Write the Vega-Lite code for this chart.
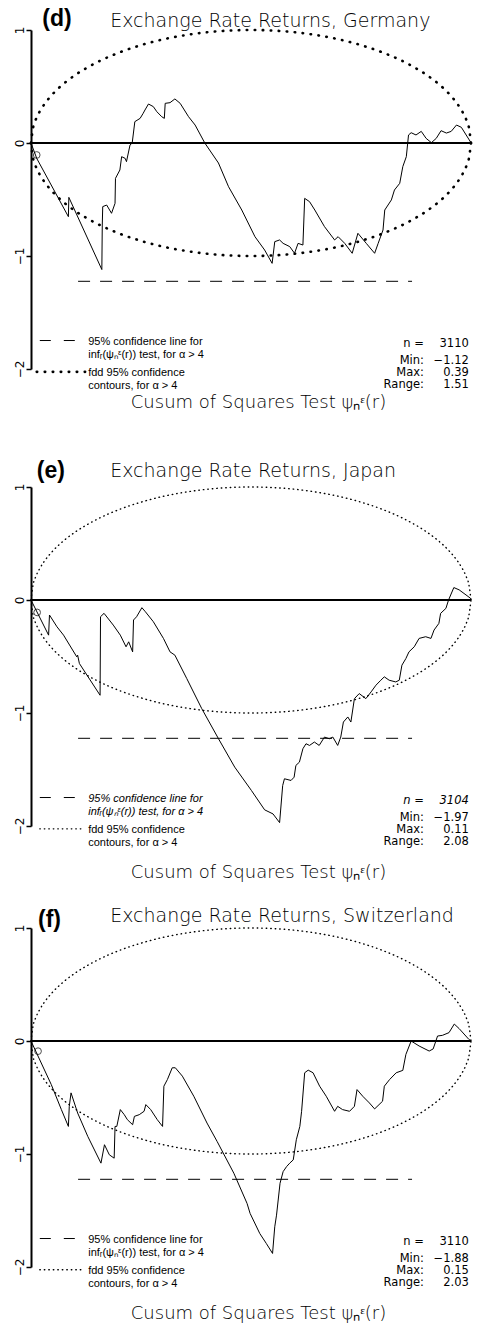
{
  "$schema": "https://vega.github.io/schema/vega-lite/v6.json",
  "background": "white",
  "padding": {"left": 13, "top": 8, "right": 0, "bottom": 0},
  "config": {"view": {"stroke": null}},
  "datasets": {
    "ellipse": [
      {"r":0,"upper":0,"lower":0},{"r":0.005,"upper":0.141,"lower":-0.141},{"r":0.01,"upper":0.199,"lower":-0.199},
      {"r":0.02,"upper":0.28,"lower":-0.28},{"r":0.03,"upper":0.341,"lower":-0.341},{"r":0.05,"upper":0.436,"lower":-0.436},
      {"r":0.075,"upper":0.527,"lower":-0.527},{"r":0.1,"upper":0.6,"lower":-0.6},{"r":0.15,"upper":0.714,"lower":-0.714},
      {"r":0.2,"upper":0.8,"lower":-0.8},{"r":0.25,"upper":0.866,"lower":-0.866},{"r":0.3,"upper":0.917,"lower":-0.917},
      {"r":0.35,"upper":0.954,"lower":-0.954},{"r":0.4,"upper":0.98,"lower":-0.98},{"r":0.45,"upper":0.995,"lower":-0.995},
      {"r":0.5,"upper":1,"lower":-1},{"r":0.55,"upper":0.995,"lower":-0.995},{"r":0.6,"upper":0.98,"lower":-0.98},
      {"r":0.65,"upper":0.954,"lower":-0.954},{"r":0.7,"upper":0.917,"lower":-0.917},{"r":0.75,"upper":0.866,"lower":-0.866},
      {"r":0.8,"upper":0.8,"lower":-0.8},{"r":0.85,"upper":0.714,"lower":-0.714},{"r":0.9,"upper":0.6,"lower":-0.6},
      {"r":0.925,"upper":0.527,"lower":-0.527},{"r":0.95,"upper":0.436,"lower":-0.436},{"r":0.97,"upper":0.341,"lower":-0.341},
      {"r":0.98,"upper":0.28,"lower":-0.28},{"r":0.99,"upper":0.199,"lower":-0.199},{"r":0.995,"upper":0.141,"lower":-0.141},
      {"r":1,"upper":0,"lower":0}
    ],
    "conf": [{"r":0.107,"psi":-1.224},{"r":0.866,"psi":-1.224}],
    "germany": [
      {"r":0,"psi":0},{"r":0.013,"psi":-0.136},{"r":0.085,"psi":-0.652},{"r":0.086,"psi":-0.481},{"r":0.161,"psi":-1.12},
      {"r":0.162,"psi":-0.726},{"r":0.163,"psi":-0.563},{"r":0.172,"psi":-0.549},{"r":0.183,"psi":-0.622},{"r":0.191,"psi":-0.534},
      {"r":0.192,"psi":-0.313},{"r":0.202,"psi":-0.239},{"r":0.206,"psi":-0.121},{"r":0.214,"psi":-0.136},{"r":0.217,"psi":-0.165},
      {"r":0.225,"psi":-0.018},{"r":0.23,"psi":0},{"r":0.236,"psi":0.189},{"r":0.248,"psi":0.218},{"r":0.255,"psi":0.263},
      {"r":0.259,"psi":0.292},{"r":0.267,"psi":0.345},{"r":0.278,"psi":0.322},{"r":0.286,"psi":0.277},{"r":0.297,"psi":0.233},
      {"r":0.303,"psi":0.218},{"r":0.305,"psi":0.351},{"r":0.316,"psi":0.357},{"r":0.327,"psi":0.39},{"r":0.339,"psi":0.351},
      {"r":0.358,"psi":0.233},{"r":0.373,"psi":0.159},{"r":0.395,"psi":0},{"r":0.426,"psi":-0.177},{"r":0.449,"psi":-0.387},
      {"r":0.479,"psi":-0.593},{"r":0.509,"psi":-0.829},{"r":0.531,"psi":-0.947},{"r":0.548,"psi":-1.065},{"r":0.554,"psi":-0.873},
      {"r":0.565,"psi":-0.858},{"r":0.573,"psi":-0.888},{"r":0.588,"psi":-0.917},{"r":0.599,"psi":-0.976},{"r":0.607,"psi":-0.888},
      {"r":0.618,"psi":-0.903},{"r":0.622,"psi":-0.49},{"r":0.633,"psi":-0.519},{"r":0.645,"psi":-0.593},{"r":0.667,"psi":-0.74},
      {"r":0.69,"psi":-0.858},{"r":0.698,"psi":-0.829},{"r":0.713,"psi":-0.888},{"r":0.73,"psi":-0.976},{"r":0.743,"psi":-0.799},
      {"r":0.762,"psi":-0.888},{"r":0.781,"psi":-0.976},{"r":0.789,"psi":-0.888},{"r":0.8,"psi":-0.77},{"r":0.804,"psi":-0.593},
      {"r":0.819,"psi":-0.504},{"r":0.826,"psi":-0.416},{"r":0.838,"psi":-0.357},{"r":0.845,"psi":-0.209},{"r":0.853,"psi":-0.121},
      {"r":0.858,"psi":0.071},{"r":0.864,"psi":0.091},{"r":0.875,"psi":0.071},{"r":0.887,"psi":0.103},{"r":0.898,"psi":0.041},
      {"r":0.91,"psi":0.003},{"r":0.921,"psi":0.041},{"r":0.932,"psi":0.109},{"r":0.944,"psi":0.088},{"r":0.955,"psi":0.103},
      {"r":0.967,"psi":0.159},{"r":0.978,"psi":0.139},{"r":0.999,"psi":0.009},{"r":1,"psi":0}
    ],
    "japan": [
      {"r":0,"psi":0},{"r":0.04,"psi":-0.311},{"r":0.042,"psi":-0.133},{"r":0.059,"psi":-0.237},{"r":0.074,"psi":-0.311},
      {"r":0.104,"psi":-0.503},{"r":0.106,"psi":-0.488},{"r":0.11,"psi":-0.562},{"r":0.157,"psi":-0.843},{"r":0.158,"psi":-0.148},
      {"r":0.166,"psi":-0.118},{"r":0.187,"psi":-0.222},{"r":0.203,"psi":-0.311},{"r":0.216,"psi":-0.414},{"r":0.222,"psi":-0.37},
      {"r":0.231,"psi":-0.459},{"r":0.233,"psi":-0.177},{"r":0.24,"psi":-0.148},{"r":0.252,"psi":-0.068},{"r":0.26,"psi":-0.104},
      {"r":0.278,"psi":-0.192},{"r":0.301,"psi":-0.34},{"r":0.316,"psi":-0.459},{"r":0.327,"psi":-0.488},{"r":0.354,"psi":-0.695},
      {"r":0.388,"psi":-0.961},{"r":0.426,"psi":-1.227},{"r":0.463,"psi":-1.479},{"r":0.501,"psi":-1.686},{"r":0.531,"psi":-1.857},
      {"r":0.55,"psi":-1.893},{"r":0.565,"psi":-1.97},{"r":0.572,"psi":-1.642},{"r":0.576,"psi":-1.582},{"r":0.591,"psi":-1.597},
      {"r":0.598,"psi":-1.568},{"r":0.602,"psi":-1.464},{"r":0.61,"psi":-1.435},{"r":0.618,"psi":-1.316},{"r":0.625,"psi":-1.272},
      {"r":0.633,"psi":-1.287},{"r":0.644,"psi":-1.257},{"r":0.655,"psi":-1.287},{"r":0.667,"psi":-1.213},{"r":0.678,"psi":-1.228},
      {"r":0.686,"psi":-1.213},{"r":0.697,"psi":-1.287},{"r":0.704,"psi":-1.213},{"r":0.71,"psi":-1.08},{"r":0.72,"psi":-1.035},
      {"r":0.727,"psi":-1.08},{"r":0.735,"psi":-0.873},{"r":0.746,"psi":-0.828},{"r":0.761,"psi":-0.873},{"r":0.773,"psi":-0.813},
      {"r":0.784,"psi":-0.754},{"r":0.795,"psi":-0.71},{"r":0.803,"psi":-0.68},{"r":0.814,"psi":-0.71},{"r":0.829,"psi":-0.725},
      {"r":0.837,"psi":-0.71},{"r":0.843,"psi":-0.577},{"r":0.852,"psi":-0.518},{"r":0.859,"psi":-0.459},{"r":0.871,"psi":-0.414},
      {"r":0.882,"psi":-0.34},{"r":0.897,"psi":-0.325},{"r":0.909,"psi":-0.34},{"r":0.916,"psi":-0.266},{"r":0.927,"psi":-0.207},
      {"r":0.931,"psi":-0.118},{"r":0.943,"psi":-0.074},{"r":0.949,"psi":0},{"r":0.961,"psi":0.11},{"r":0.973,"psi":0.09},
      {"r":0.999,"psi":0.015},{"r":1,"psi":0}
    ],
    "switzerland": [
      {"r":0,"psi":0},{"r":0.046,"psi":-0.385},{"r":0.069,"psi":-0.607},{"r":0.085,"psi":-0.756},{"r":0.087,"psi":-0.578},
      {"r":0.091,"psi":-0.459},{"r":0.106,"psi":-0.637},{"r":0.129,"psi":-0.844},{"r":0.159,"psi":-1.081},{"r":0.167,"psi":-0.918},
      {"r":0.178,"psi":-1.007},{"r":0.189,"psi":-1.037},{"r":0.191,"psi":-0.756},{"r":0.195,"psi":-0.756},{"r":0.203,"psi":-0.607},
      {"r":0.212,"psi":-0.652},{"r":0.219,"psi":-0.696},{"r":0.231,"psi":-0.741},{"r":0.235,"psi":-0.667},{"r":0.246,"psi":-0.652},
      {"r":0.257,"psi":-0.622},{"r":0.261,"psi":-0.563},{"r":0.272,"psi":-0.607},{"r":0.287,"psi":-0.696},{"r":0.299,"psi":-0.756},
      {"r":0.302,"psi":-0.4},{"r":0.31,"psi":-0.341},{"r":0.321,"psi":-0.237},{"r":0.328,"psi":-0.237},{"r":0.344,"psi":-0.311},
      {"r":0.37,"psi":-0.489},{"r":0.4,"psi":-0.726},{"r":0.423,"psi":-0.889},{"r":0.461,"psi":-1.17},{"r":0.491,"psi":-1.437},
      {"r":0.498,"psi":-1.526},{"r":0.52,"psi":-1.704},{"r":0.535,"psi":-1.793},{"r":0.549,"psi":-1.88},{"r":0.554,"psi":-1.644},
      {"r":0.558,"psi":-1.541},{"r":0.566,"psi":-1.259},{"r":0.573,"psi":-1.156},{"r":0.581,"psi":-1.111},{"r":0.588,"psi":-1.081},
      {"r":0.596,"psi":-1.052},{"r":0.603,"psi":-0.874},{"r":0.611,"psi":-0.756},{"r":0.615,"psi":-0.622},{"r":0.622,"psi":-0.281},
      {"r":0.63,"psi":-0.258},{"r":0.641,"psi":-0.281},{"r":0.656,"psi":-0.4},{"r":0.671,"psi":-0.489},{"r":0.69,"psi":-0.622},
      {"r":0.697,"psi":-0.578},{"r":0.708,"psi":-0.607},{"r":0.724,"psi":-0.622},{"r":0.735,"psi":-0.578},{"r":0.741,"psi":-0.43},
      {"r":0.754,"psi":-0.489},{"r":0.769,"psi":-0.548},{"r":0.781,"psi":-0.601},{"r":0.799,"psi":-0.533},{"r":0.803,"psi":-0.4},
      {"r":0.815,"psi":-0.341},{"r":0.83,"psi":-0.281},{"r":0.845,"psi":-0.26},{"r":0.852,"psi":-0.119},{"r":0.864,"psi":0},
      {"r":0.882,"psi":-0.044},{"r":0.905,"psi":-0.089},{"r":0.914,"psi":-0.07},{"r":0.924,"psi":0.044},{"r":0.935,"psi":0.05},
      {"r":0.95,"psi":0.074},{"r":0.962,"psi":0.15},{"r":0.973,"psi":0.11},{"r":0.995,"psi":0.015},{"r":1,"psi":0}
    ]
  },
  "bounds": "flush",
  "spacing": 118,
  "vconcat": [
    {
      "width": 440, "height": 339,
      "layer": [
        {"data": {"name": "ellipse"}, "mark": {"type": "line", "interpolate": "monotone", "color": "#000", "strokeWidth": 2.6, "strokeDash": [0.5, 7.5], "strokeCap": "round"},
         "encoding": {"x": {"field": "r", "type": "quantitative", "scale": {"domain": [0, 1], "nice": false}, "axis": null},
                      "y": {"field": "upper", "type": "quantitative", "scale": {"domain": [-2, 1], "nice": false}, "title": null,
                            "axis": {"values": [1, 0, -1, -2], "format": "d", "labelAngle": -90, "labelFont": "DejaVu Sans", "labelFontSize": 12, "labelColor": "#000", "domainColor": "#000", "domainWidth": 2, "tickColor": "#000", "tickWidth": 1.5, "tickSize": 5, "labelPadding": 0, "grid": false}}}},
        {"data": {"name": "ellipse"}, "mark": {"type": "line", "interpolate": "monotone", "color": "#000", "strokeWidth": 2.6, "strokeDash": [0.5, 7.5], "strokeCap": "round"},
         "encoding": {"x": {"field": "r", "type": "quantitative", "axis": null}, "y": {"field": "lower", "type": "quantitative", "title": null}}},
        {"data": {"values": [{}]}, "mark": {"type": "rule", "color": "#000", "strokeWidth": 2},
         "encoding": {"x": {"datum": 0, "axis": null}, "x2": {"datum": 1}, "y": {"datum": 0, "title": null}}},
        {"data": {"name": "conf"}, "mark": {"type": "line", "color": "#000", "strokeWidth": 1, "strokeDash": [12, 10]},
         "encoding": {"x": {"field": "r", "type": "quantitative", "axis": null}, "y": {"field": "psi", "type": "quantitative", "title": null}}},
        {"data": {"name": "germany"}, "mark": {"type": "line", "color": "#000", "strokeWidth": 1},
         "encoding": {"x": {"field": "r", "type": "quantitative", "axis": null}, "y": {"field": "psi", "type": "quantitative", "title": null}}},
        {"data": {"values": [{"r": 0.013, "psi": -0.106}]}, "mark": {"type": "point", "shape": "circle", "size": 45, "filled": false, "color": "#000", "strokeWidth": 1},
         "encoding": {"x": {"field": "r", "type": "quantitative", "axis": null}, "y": {"field": "psi", "type": "quantitative", "title": null}}},
        {"data": {"values": [{}]}, "mark": {"type": "rule", "color": "#000", "strokeWidth": 1, "strokeDash": [11, 13]},
         "encoding": {"x": {"datum": 0.02, "axis": null}, "x2": {"datum": 0.1}, "y": {"datum": -1.748, "title": null}}},
        {"data": {"values": [{}]}, "mark": {"type": "rule", "color": "#000", "strokeWidth": 2.6, "strokeDash": [0.5, 7.5], "strokeCap": "round"},
         "encoding": {"x": {"datum": 0.013, "axis": null}, "x2": {"datum": 0.123}, "y": {"datum": -2.025, "title": null}}},
        {"data": {"values": [{}]}, "mark": {"type": "text", "text": ["95% confidence line for", "infᵣ(ψₙᵋ(r)) test, for α > 4"], "align": "left", "baseline": "alphabetic", "lineHeight": 13, "font": "Liberation Sans", "fontSize": 11, "color": "#000"},
         "encoding": {"x": {"datum": 0.13, "axis": null}, "y": {"datum": -1.79, "title": null}}},
        {"data": {"values": [{}]}, "mark": {"type": "text", "text": ["fdd 95% confidence", "contours, for α > 4"], "align": "left", "baseline": "alphabetic", "lineHeight": 13, "font": "Liberation Sans", "fontSize": 11, "color": "#000"},
         "encoding": {"x": {"datum": 0.13, "axis": null}, "y": {"datum": -2.06, "title": null}}},
        {"data": {"values": [{}]}, "mark": {"type": "text", "text": "n =", "align": "right", "baseline": "alphabetic", "font": "DejaVu Sans", "fontSize": 11.5, "color": "#000"},
         "encoding": {"x": {"datum": 0.893, "axis": null}, "y": {"datum": -1.805, "title": null}}},
        {"data": {"values": [{}]}, "mark": {"type": "text", "text": ["Min:", "Max:", "Range:"], "align": "right", "baseline": "alphabetic", "lineHeight": 12, "font": "DejaVu Sans", "fontSize": 11.5, "color": "#000"},
         "encoding": {"x": {"datum": 0.893, "axis": null}, "y": {"datum": -1.953, "title": null}}},
        {"data": {"values": [{}]}, "mark": {"type": "text", "text": "3110", "align": "right", "baseline": "alphabetic", "font": "DejaVu Sans", "fontSize": 11.5, "color": "#000"},
         "encoding": {"x": {"datum": 0.995, "axis": null}, "y": {"datum": -1.805, "title": null}}},
        {"data": {"values": [{}]}, "mark": {"type": "text", "text": ["−1.12", "0.39", "1.51"], "align": "right", "baseline": "alphabetic", "lineHeight": 12, "font": "DejaVu Sans", "fontSize": 11.5, "color": "#000"},
         "encoding": {"x": {"datum": 0.995, "axis": null}, "y": {"datum": -1.953, "title": null}}},
        {"data": {"values": [{}]}, "mark": {"type": "text", "text": "Exchange Rate Returns, Germany", "align": "left", "baseline": "alphabetic", "font": "DejaVu Sans", "fontSize": 19, "fontWeight": 300, "color": "#000"},
         "encoding": {"x": {"datum": 0.18, "axis": null}, "y": {"datum": 1.03, "title": null}}},
        {"data": {"values": [{}]}, "mark": {"type": "text", "text": "(d)", "align": "center", "baseline": "middle", "font": "Liberation Sans", "fontSize": 23, "fontWeight": "bold", "color": "#000"},
         "encoding": {"x": {"datum": 0.059, "axis": null}, "y": {"datum": 1.097, "title": null}}},
        {"data": {"values": [{}]}, "mark": {"type": "text", "text": "Cusum of Squares Test ψₙᵋ(r)", "align": "center", "baseline": "alphabetic", "font": "DejaVu Sans", "fontSize": 18, "fontWeight": 300, "color": "#000"},
         "encoding": {"x": {"datum": 0.517, "axis": null}, "y": {"datum": -2.345, "title": null}}}
      ]
    },
    {
      "bounds": "flush",
      "spacing": 102,
      "vconcat": [
        {
          "width": 440, "height": 339,
          "layer": [
            {"data": {"name": "ellipse"}, "mark": {"type": "line", "interpolate": "monotone", "color": "#000", "strokeWidth": 1.4, "strokeDash": [0.5, 4], "strokeCap": "round"},
             "encoding": {"x": {"field": "r", "type": "quantitative", "scale": {"domain": [0, 1], "nice": false}, "axis": null},
                          "y": {"field": "upper", "type": "quantitative", "scale": {"domain": [-2, 1], "nice": false}, "title": null,
                                "axis": {"values": [1, 0, -1, -2], "format": "d", "labelAngle": -90, "labelFont": "DejaVu Sans", "labelFontSize": 12, "labelColor": "#000", "domainColor": "#000", "domainWidth": 2, "tickColor": "#000", "tickWidth": 1.5, "tickSize": 5, "labelPadding": 0, "grid": false}}}},
            {"data": {"name": "ellipse"}, "mark": {"type": "line", "interpolate": "monotone", "color": "#000", "strokeWidth": 1.4, "strokeDash": [0.5, 4], "strokeCap": "round"},
             "encoding": {"x": {"field": "r", "type": "quantitative", "axis": null}, "y": {"field": "lower", "type": "quantitative", "title": null}}},
            {"data": {"values": [{}]}, "mark": {"type": "rule", "color": "#000", "strokeWidth": 2},
             "encoding": {"x": {"datum": 0, "axis": null}, "x2": {"datum": 1}, "y": {"datum": 0, "title": null}}},
            {"data": {"name": "conf"}, "mark": {"type": "line", "color": "#000", "strokeWidth": 1, "strokeDash": [12, 10]},
             "encoding": {"x": {"field": "r", "type": "quantitative", "axis": null}, "y": {"field": "psi", "type": "quantitative", "title": null}}},
            {"data": {"name": "japan"}, "mark": {"type": "line", "color": "#000", "strokeWidth": 1},
             "encoding": {"x": {"field": "r", "type": "quantitative", "axis": null}, "y": {"field": "psi", "type": "quantitative", "title": null}}},
            {"data": {"values": [{"r": 0.014, "psi": -0.11}]}, "mark": {"type": "point", "shape": "circle", "size": 45, "filled": false, "color": "#000", "strokeWidth": 1},
             "encoding": {"x": {"field": "r", "type": "quantitative", "axis": null}, "y": {"field": "psi", "type": "quantitative", "title": null}}},
            {"data": {"values": [{}]}, "mark": {"type": "rule", "color": "#000", "strokeWidth": 1, "strokeDash": [11, 13]},
             "encoding": {"x": {"datum": 0.02, "axis": null}, "x2": {"datum": 0.1}, "y": {"datum": -1.748, "title": null}}},
            {"data": {"values": [{}]}, "mark": {"type": "rule", "color": "#000", "strokeWidth": 1.4, "strokeDash": [0.5, 4], "strokeCap": "round"},
             "encoding": {"x": {"datum": 0.02, "axis": null}, "x2": {"datum": 0.12}, "y": {"datum": -2.025, "title": null}}},
            {"data": {"values": [{}]}, "mark": {"type": "text", "text": ["95% confidence line for", "infᵣ(ψₙᵋ(r)) test, for α > 4"], "align": "left", "baseline": "alphabetic", "lineHeight": 13, "font": "Liberation Sans", "fontSize": 11, "fontStyle": "italic", "color": "#000"},
             "encoding": {"x": {"datum": 0.13, "axis": null}, "y": {"datum": -1.79, "title": null}}},
            {"data": {"values": [{}]}, "mark": {"type": "text", "text": ["fdd 95% confidence", "contours, for α > 4"], "align": "left", "baseline": "alphabetic", "lineHeight": 13, "font": "Liberation Sans", "fontSize": 11, "color": "#000"},
             "encoding": {"x": {"datum": 0.13, "axis": null}, "y": {"datum": -2.06, "title": null}}},
            {"data": {"values": [{}]}, "mark": {"type": "text", "text": "n =", "align": "right", "baseline": "alphabetic", "font": "DejaVu Sans", "fontSize": 11.5, "fontStyle": "italic", "color": "#000"},
             "encoding": {"x": {"datum": 0.893, "axis": null}, "y": {"datum": -1.805, "title": null}}},
            {"data": {"values": [{}]}, "mark": {"type": "text", "text": ["Min:", "Max:", "Range:"], "align": "right", "baseline": "alphabetic", "lineHeight": 12, "font": "DejaVu Sans", "fontSize": 11.5, "color": "#000"},
             "encoding": {"x": {"datum": 0.893, "axis": null}, "y": {"datum": -1.953, "title": null}}},
            {"data": {"values": [{}]}, "mark": {"type": "text", "text": "3104", "align": "right", "baseline": "alphabetic", "font": "DejaVu Sans", "fontSize": 11.5, "fontStyle": "italic", "color": "#000"},
             "encoding": {"x": {"datum": 0.995, "axis": null}, "y": {"datum": -1.805, "title": null}}},
            {"data": {"values": [{}]}, "mark": {"type": "text", "text": ["−1.97", "0.11", "2.08"], "align": "right", "baseline": "alphabetic", "lineHeight": 12, "font": "DejaVu Sans", "fontSize": 11.5, "color": "#000"},
             "encoding": {"x": {"datum": 0.995, "axis": null}, "y": {"datum": -1.953, "title": null}}},
            {"data": {"values": [{}]}, "mark": {"type": "text", "text": "Exchange Rate Returns, Japan", "align": "left", "baseline": "alphabetic", "font": "DejaVu Sans", "fontSize": 19, "fontWeight": 300, "color": "#000"},
             "encoding": {"x": {"datum": 0.18, "axis": null}, "y": {"datum": 1.091, "title": null}}},
            {"data": {"values": [{}]}, "mark": {"type": "text", "text": "(e)", "align": "center", "baseline": "middle", "font": "Liberation Sans", "fontSize": 23, "fontWeight": "bold", "color": "#000"},
             "encoding": {"x": {"datum": 0.045, "axis": null}, "y": {"datum": 1.145, "title": null}}},
            {"data": {"values": [{}]}, "mark": {"type": "text", "text": "Cusum of Squares Test ψₙᵋ(r)", "align": "center", "baseline": "alphabetic", "font": "DejaVu Sans", "fontSize": 18, "fontWeight": 300, "color": "#000"},
             "encoding": {"x": {"datum": 0.517, "axis": null}, "y": {"datum": -2.458, "title": null}}}
          ]
        },
        {
          "width": 440, "height": 339,
          "layer": [
            {"data": {"name": "ellipse"}, "mark": {"type": "line", "interpolate": "monotone", "color": "#000", "strokeWidth": 1.4, "strokeDash": [0.5, 4], "strokeCap": "round"},
             "encoding": {"x": {"field": "r", "type": "quantitative", "scale": {"domain": [0, 1], "nice": false}, "axis": null},
                          "y": {"field": "upper", "type": "quantitative", "scale": {"domain": [-2, 1], "nice": false}, "title": null,
                                "axis": {"values": [1, 0, -1, -2], "format": "d", "labelAngle": -90, "labelFont": "DejaVu Sans", "labelFontSize": 12, "labelColor": "#000", "domainColor": "#000", "domainWidth": 2, "tickColor": "#000", "tickWidth": 1.5, "tickSize": 5, "labelPadding": 0, "grid": false}}}},
            {"data": {"name": "ellipse"}, "mark": {"type": "line", "interpolate": "monotone", "color": "#000", "strokeWidth": 1.4, "strokeDash": [0.5, 4], "strokeCap": "round"},
             "encoding": {"x": {"field": "r", "type": "quantitative", "axis": null}, "y": {"field": "lower", "type": "quantitative", "title": null}}},
            {"data": {"values": [{}]}, "mark": {"type": "rule", "color": "#000", "strokeWidth": 2},
             "encoding": {"x": {"datum": 0, "axis": null}, "x2": {"datum": 1}, "y": {"datum": 0, "title": null}}},
            {"data": {"name": "conf"}, "mark": {"type": "line", "color": "#000", "strokeWidth": 1, "strokeDash": [12, 10]},
             "encoding": {"x": {"field": "r", "type": "quantitative", "axis": null}, "y": {"field": "psi", "type": "quantitative", "title": null}}},
            {"data": {"name": "switzerland"}, "mark": {"type": "line", "color": "#000", "strokeWidth": 1},
             "encoding": {"x": {"field": "r", "type": "quantitative", "axis": null}, "y": {"field": "psi", "type": "quantitative", "title": null}}},
            {"data": {"values": [{"r": 0.016, "psi": -0.09}]}, "mark": {"type": "point", "shape": "circle", "size": 45, "filled": false, "color": "#000", "strokeWidth": 1},
             "encoding": {"x": {"field": "r", "type": "quantitative", "axis": null}, "y": {"field": "psi", "type": "quantitative", "title": null}}},
            {"data": {"values": [{}]}, "mark": {"type": "rule", "color": "#000", "strokeWidth": 1, "strokeDash": [11, 13]},
             "encoding": {"x": {"datum": 0.02, "axis": null}, "x2": {"datum": 0.1}, "y": {"datum": -1.748, "title": null}}},
            {"data": {"values": [{}]}, "mark": {"type": "rule", "color": "#000", "strokeWidth": 1.4, "strokeDash": [0.5, 4], "strokeCap": "round"},
             "encoding": {"x": {"datum": 0.02, "axis": null}, "x2": {"datum": 0.12}, "y": {"datum": -2.025, "title": null}}},
            {"data": {"values": [{}]}, "mark": {"type": "text", "text": ["95% confidence line for", "infᵣ(ψₙᵋ(r)) test, for α > 4"], "align": "left", "baseline": "alphabetic", "lineHeight": 13, "font": "Liberation Sans", "fontSize": 11, "color": "#000"},
             "encoding": {"x": {"datum": 0.13, "axis": null}, "y": {"datum": -1.79, "title": null}}},
            {"data": {"values": [{}]}, "mark": {"type": "text", "text": ["fdd 95% confidence", "contours, for α > 4"], "align": "left", "baseline": "alphabetic", "lineHeight": 13, "font": "Liberation Sans", "fontSize": 11, "color": "#000"},
             "encoding": {"x": {"datum": 0.13, "axis": null}, "y": {"datum": -2.06, "title": null}}},
            {"data": {"values": [{}]}, "mark": {"type": "text", "text": "n =", "align": "right", "baseline": "alphabetic", "font": "DejaVu Sans", "fontSize": 11.5, "color": "#000"},
             "encoding": {"x": {"datum": 0.893, "axis": null}, "y": {"datum": -1.805, "title": null}}},
            {"data": {"values": [{}]}, "mark": {"type": "text", "text": ["Min:", "Max:", "Range:"], "align": "right", "baseline": "alphabetic", "lineHeight": 12, "font": "DejaVu Sans", "fontSize": 11.5, "color": "#000"},
             "encoding": {"x": {"datum": 0.893, "axis": null}, "y": {"datum": -1.953, "title": null}}},
            {"data": {"values": [{}]}, "mark": {"type": "text", "text": "3110", "align": "right", "baseline": "alphabetic", "font": "DejaVu Sans", "fontSize": 11.5, "color": "#000"},
             "encoding": {"x": {"datum": 0.995, "axis": null}, "y": {"datum": -1.805, "title": null}}},
            {"data": {"values": [{}]}, "mark": {"type": "text", "text": ["−1.88", "0.15", "2.03"], "align": "right", "baseline": "alphabetic", "lineHeight": 12, "font": "DejaVu Sans", "fontSize": 11.5, "color": "#000"},
             "encoding": {"x": {"datum": 0.995, "axis": null}, "y": {"datum": -1.953, "title": null}}},
            {"data": {"values": [{}]}, "mark": {"type": "text", "text": "Exchange Rate Returns, Switzerland", "align": "left", "baseline": "alphabetic", "font": "DejaVu Sans", "fontSize": 19, "fontWeight": 300, "color": "#000"},
             "encoding": {"x": {"datum": 0.18, "axis": null}, "y": {"datum": 1.049, "title": null}}},
            {"data": {"values": [{}]}, "mark": {"type": "text", "text": "(f)", "align": "center", "baseline": "middle", "font": "Liberation Sans", "fontSize": 23, "fontWeight": "bold", "color": "#000"},
             "encoding": {"x": {"datum": 0.042, "axis": null}, "y": {"datum": 1.067, "title": null}}},
            {"data": {"values": [{}]}, "mark": {"type": "text", "text": "Cusum of Squares Test ψₙᵋ(r)", "align": "center", "baseline": "alphabetic", "font": "DejaVu Sans", "fontSize": 18, "fontWeight": 300, "color": "#000"},
             "encoding": {"x": {"datum": 0.517, "axis": null}, "y": {"datum": -2.462, "title": null}}}
          ]
        }
      ]
    }
  ]
}
